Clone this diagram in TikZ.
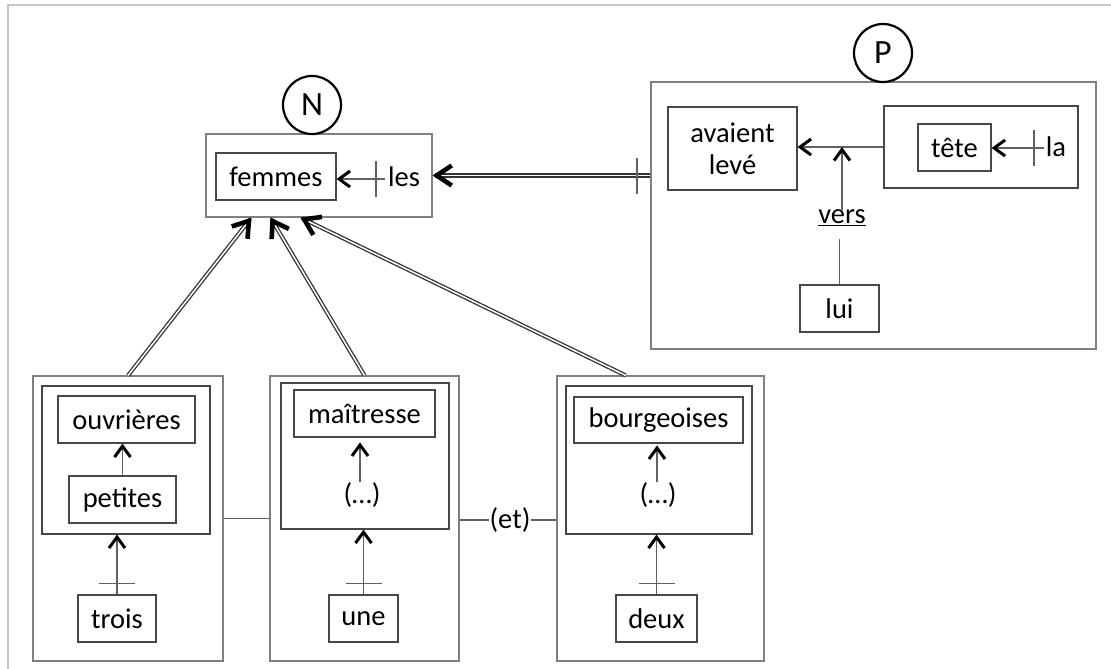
\documentclass[tikz,border=0pt]{standalone}
\usepackage{fontspec}
\setmainfont{Carlito}
\usetikzlibrary{arrows.meta,calc}
\begin{document}
\begin{tikzpicture}[x=1pt,y=-1pt,
  every node/.style={font=\fontsize{28.5}{32}\selectfont, inner sep=0pt},
  obox/.style 2 args={draw=black!50, line width=1.1pt, minimum width=#1, minimum height=#2},
  ibox/.style 2 args={draw=black!72, line width=1.1pt, minimum width=#1, minimum height=#2},
  circ/.style={circle, draw=black, line width=2.2pt, minimum size=58pt},
  conn/.style={draw=black!62, line width=1.3pt},
  arr/.style={conn, -{Straight Barb[length=11pt,width=16pt,line width=3pt,color=black]}},
  dbl/.style={draw=black!80, line width=1.3pt, double=white, double distance=1.5pt},
  dhead/.style={draw=black, line width=0.6pt, -{Straight Barb[length=15pt,width=20pt,line width=4.6pt,color=black]}}
]
\useasboundingbox (0,0) rectangle (1111,669);
\fill[white] (0,0) rectangle (1111,669);
\draw[black!22, line width=2pt] (8,669) -- (8,5) -- (1111,5);

% ---- N group
\node[obox={226}{83}] (nbox) at (319,175.5) {};
\node[circ, fill=white] (N) at (312,105) {\fontsize{34}{38}\selectfont N};
\node[ibox={120}{47}] (femmes) at (276,176.5) {femmes};
\node (les) at (404,177) {les};
\coordinate (tkles) at (376,179);
\draw[arr] (les.west |- tkles) ++(-3,0) -- (femmes.east |- tkles);
\draw[conn] ([yshift=18pt]tkles) -- ([yshift=-18pt]tkles);

% ---- P group
\node[obox={445}{267}] (pbox) at (873.5,215.5) {};
\node[circ, fill=white] (P) at (883,53) {\fontsize{34}{38}\selectfont P};
\node[ibox={129}{83}, align=center, font=\fontsize{28.5}{32}\selectfont] (avaient) at (732.5,148.5) {avaient\\levé};
\node[ibox={194}{82}] (teteo) at (981,147) {};
\node[ibox={73}{47}] (tete) at (954.5,147.5) {tête};
\node (la) at (1056,147) {la};
\coordinate (tkla) at (1034,148);
\draw[arr] (la.west |- tkla) ++(-2,0) -- (tete.east |- tkla);
\draw[conn] ([yshift=18pt]tkla) -- ([yshift=-18pt]tkla);
\draw[arr] (teteo.west) -- (teteo.west -| avaient.east);
\node (vers) at (842,218) {\underline{vers}};
\draw[arr] (vers.north) -- (vers.north |- teteo.west);
\node[ibox={79}{47}] (lui) at (839.5,308.5) {lui};
\draw[conn] (lui.north) -- (lui.north |- 0,239);

% P -> N double arrow
\coordinate (pn) at (pbox.west |- nbox.east);
\draw[dbl] (pn) -- ([xshift=2pt]nbox.east);
\draw[dhead] ([xshift=8pt]nbox.east) -- (nbox.east);
\coordinate (tkp) at (637,176);
\draw[conn] ([yshift=18pt]tkp) -- ([yshift=-18pt]tkp);

% ---- bottom group 1
\node[obox={190}{285}] (b1) at (128,518.5) {};
\node[ibox={168}{148}] (i1) at (126,460) {};
\node[ibox={137}{47}] (ouvr) at (126.5,419.5) {ouvrières};
\node[ibox={107}{47}] (petites) at (122.5,499.5) {petites};
\draw[arr] (petites.north) -- (petites.north |- ouvr.south);
\node[ibox={78}{47}] (trois) at (117,618.5) {trois};
\draw[arr] (trois.north) -- (trois.north |- i1.south);
\coordinate (tk1) at ($(trois.north)+(0,-11)$);
\draw[conn] ([xshift=-18pt]tk1) -- ([xshift=18pt]tk1);

% ---- bottom group 2
\node[obox={189}{285}] (b2) at (364.5,518.5) {};
\node[ibox={168}{146}] (i2) at (365,456) {};
\node[ibox={141}{47}] (maitresse) at (364.5,413.5) {maîtresse};
\node (dots2) at (362,495) {(…)};
\draw[arr] (dots2.north) ++(-2,0) -- ++(0,-40);
\node[ibox={69}{47}] (une) at (363.5,618.5) {une};
\draw[arr] (une.north) -- (une.north |- i2.south);
\coordinate (tk2) at ($(une.north)+(0,-11)$);
\draw[conn] ([xshift=-18pt]tk2) -- ([xshift=18pt]tk2);

% ---- bottom group 3
\node[obox={207}{285}] (b3) at (660.5,518.5) {};
\node[ibox={186}{148}] (i3) at (659,460) {};
\node[ibox={169}{46}] (bourg) at (658.5,420) {bourgeoises};
\node (dots3) at (658,495) {(…)};
\draw[arr] (dots3.north) ++(-1,0) -- ++(0,-37);
\node[ibox={81}{47}] (deux) at (656.5,618.5) {deux};
\draw[arr] (deux.north) -- (deux.north |- i3.south);
\coordinate (tk3) at ($(deux.north)+(0,-11)$);
\draw[conn] ([xshift=-18pt]tk3) -- ([xshift=18pt]tk3);

% ---- connectors between groups
\draw[conn] (b1.east) -- (b2.west);
\node (et) at (510,520) {(et)};
\draw[conn] (b2.east |- et.west) -- (et.west);
\draw[conn] (et.east) -- (et.east -| b3.west);

% ---- double arrows to N
\coordinate (e1) at ($(nbox.south west)+(46,0)$);
\coordinate (e2) at ($(nbox.south west)+(65,0)$);
\coordinate (e3) at ($(nbox.south west)+(95,0)$);
\coordinate (s3) at ($(b3.north west)!0.333!(b3.north east)$);
\draw[dbl] (b1.north) -- ($(e1)!2pt!(b1.north)$);
\draw[dhead] ($(e1)!8pt!(b1.north)$) -- (e1);
\draw[dbl] (b2.north) -- ($(e2)!2pt!(b2.north)$);
\draw[dhead] ($(e2)!8pt!(b2.north)$) -- (e2);
\draw[dbl] (s3) -- ($(e3)!2pt!(s3)$);
\draw[dhead] ($(e3)!8pt!(s3)$) -- (e3);
\end{tikzpicture}
\end{document}
